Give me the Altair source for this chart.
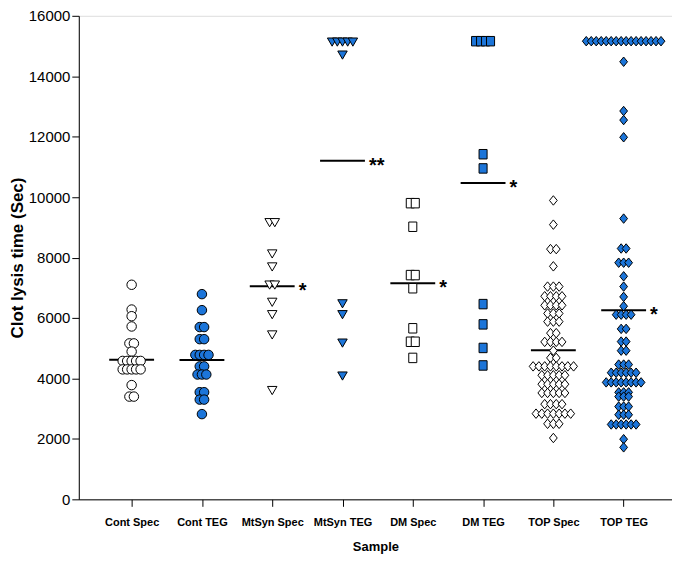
import json
import altair as alt
import pandas as pd

categories = ["Cont Spec", "Cont TEG", "MtSyn Spec", "MtSyn TEG",
              "DM Spec", "DM TEG", "TOP Spec", "TOP TEG"]

# Each group: distinct values (rows of the dot plot) and how many points sit on each row
cont_spec_values = [7100, 6280, 6060, 5720, 5160, 4890, 4580, 4300, 3780, 3400]
cont_spec_counts = [1, 1, 1, 1, 2, 1, 5, 5, 1, 2]

cont_teg_values = [6790, 6260, 5700, 5300, 4780, 4400, 4130, 3545, 3300, 2820]
cont_teg_counts = [1, 1, 2, 2, 4, 2, 3, 2, 2, 1]

mtsyn_spec_values = [9155, 8120, 7690, 7090, 6520, 6110, 5440, 3600]
mtsyn_spec_counts = [2, 1, 1, 2, 1, 1, 1, 1]

mtsyn_teg_values = [15130, 14700, 6470, 6110, 5170, 4080]
mtsyn_teg_counts = [5, 1, 1, 1, 1, 1]

dm_spec_values = [9800, 9020, 7420, 6985, 5660, 5214, 4680]
dm_spec_counts = [2, 1, 2, 1, 1, 2, 1]

dm_teg_values = [15160, 11420, 10950, 6460, 5790, 5010, 4430]
dm_teg_counts = [4, 1, 1, 1, 1, 1, 1]

top_spec_values = [9890, 9090, 8280, 7710, 7040, 6720, 6420, 6150, 5880, 5500, 5210,
                   4920, 4680, 4400, 4106, 3810, 3520, 3150, 2835, 2500, 2030]
top_spec_counts = [1, 1, 2, 1, 3, 4, 4, 3, 3, 2, 4,
                   1, 2, 8, 5, 5, 5, 4, 7, 3, 1]

top_teg_values = [15160, 14480, 12850, 12550, 11980, 9290, 8300, 7830, 7380, 7040, 6700,
                  6390, 6110, 5640, 5220, 4920, 4460, 4190, 3870, 3540, 3400, 3070,
                  2800, 2477, 1990, 1720]
top_teg_counts = [16, 1, 1, 1, 1, 1, 2, 3, 1, 1, 1,
                  1, 4, 2, 2, 2, 3, 6, 8, 3, 3, 3,
                  3, 6, 1, 1]

# Horizontal reference line (group summary) and significance marks
line_values = [4620, 4610, 7050, 11200, 7150, 10470, 4930, 6260]
star_labels = ["", "", "*", "**", "*", "*", "", "*"]

group_values = [cont_spec_values, cont_teg_values, mtsyn_spec_values, mtsyn_teg_values,
                dm_spec_values, dm_teg_values, top_spec_values, top_teg_values]
group_counts = [cont_spec_counts, cont_teg_counts, mtsyn_spec_counts, mtsyn_teg_counts,
                dm_spec_counts, dm_teg_counts, top_spec_counts, top_teg_counts]

# --- styling / layout (not data) ---
BLUE = "#1c75d9"
fills = ["white", BLUE, "white", BLUE, "white", BLUE, "white", BLUE]
shapes = ["circle", "circle", "triangle-down", "triangle-down",
          "M-0.85,-1L0.85,-1L0.85,1L-0.85,1Z", "M-0.85,-1L0.85,-1L0.85,1L-0.85,1Z",
          "M-0.82,0L0,-1L0.82,0L0,1Z", "M-0.82,0L0,-1L0.82,0L0,1Z"]
sizes = [90, 90, 64, 64, 64, 64, 125, 125]
PX_PER_CAT = 70.5
swarm_step_px = [4.5, 4.4, 5.2, 5.2, 5.0, 5.0, 5.8, 5.0]
HALF_LINE = 22.5 / PX_PER_CAT

rows = []
for gi, name in enumerate(categories):
    for v, c in zip(group_values[gi], group_counts[gi]):
        for k in range(c):
            off = (k - (c - 1) / 2) * swarm_step_px[gi] / PX_PER_CAT
            rows.append({"sample": name, "pos": gi + off, "value": v})
points = pd.DataFrame(rows)

lines = pd.DataFrame({
    "sample": categories,
    "x1": [i - HALF_LINE for i in range(len(categories))],
    "x2": [i + HALF_LINE for i in range(len(categories))],
    "value": line_values,
    "star": star_labels,
})

x_scale = alt.Scale(domain=[-0.752, 7.688], nice=False, zero=False)
y_scale = alt.Scale(domain=[0, 16000], nice=False)

label_expr = json.dumps(categories) + "[datum.value]"

x_axis = alt.Axis(values=list(range(len(categories))), labelExpr=label_expr,
                  title="Sample", grid=False, tickSize=7, tickColor="black",
                  domainColor="black", labelFont="Liberation Sans", labelFontSize=11,
                  labelFontWeight="bold", labelColor="black", labelPadding=10,
                  titleFont="Liberation Sans", titleFontSize=13, titleFontWeight="bold",
                  titleColor="black", titlePadding=13)
y_axis = alt.Axis(values=list(range(0, 16001, 2000)), format="d",
                  title="Clot lysis time (Sec)", grid=False, tickSize=7, tickColor="black",
                  domainColor="black", labelFont="Liberation Sans", labelFontSize=15,
                  labelColor="black", labelPadding=2,
                  titleFont="Liberation Sans", titleFontSize=17, titleFontWeight="bold",
                  titleColor="black", titlePadding=2)

pts = alt.Chart(points).mark_point(filled=True, stroke="black", strokeWidth=1, opacity=1).encode(
    x=alt.X("pos:Q", scale=x_scale, axis=x_axis),
    y=alt.Y("value:Q", scale=y_scale, axis=y_axis),
    shape=alt.Shape("sample:N", scale=alt.Scale(domain=categories, range=shapes), legend=None),
    fill=alt.Fill("sample:N", scale=alt.Scale(domain=categories, range=fills), legend=None),
    size=alt.Size("sample:N", scale=alt.Scale(domain=categories, range=sizes), legend=None),
)

rule = alt.Chart(lines).mark_rule(color="black", strokeWidth=2).encode(
    x=alt.X("x1:Q", scale=x_scale),
    x2="x2:Q",
    y=alt.Y("value:Q", scale=y_scale),
)

stars = alt.Chart(lines).mark_text(align="left", baseline="middle", dx=4, dy=5,
                                   font="Liberation Sans", fontSize=20, fontWeight="bold",
                                   color="black").encode(
    x=alt.X("x2:Q", scale=x_scale),
    y=alt.Y("value:Q", scale=y_scale),
    text="star:N",
)

chart = alt.layer(rule, pts, stars).properties(
    width=595, height=485,
    padding={"left": 0, "top": 0, "right": 0, "bottom": 0},
).configure_view(stroke="black", strokeWidth=1).configure(background="white")

chart.save("out.html", embed_options={"renderer": "svg", "actions": False})
